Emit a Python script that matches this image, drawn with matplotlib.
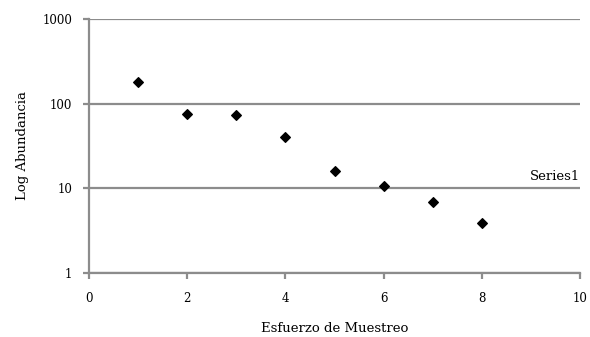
import matplotlib
matplotlib.use("Agg")
import matplotlib.pyplot as plt
from matplotlib.ticker import FixedLocator, FixedFormatter

esfuerzo = [1, 2, 3, 4, 5, 6, 7, 8]
abundancia = [178, 76, 74, 40, 15.8, 10.5, 6.8, 3.9]
x_ticks = [0, 2, 4, 6, 8, 10]
y_ticks = [1, 10, 100, 1000]
y_labels = ["1", "10", "100", "1000"]

plt.rcParams["font.family"] = ["DejaVu Serif"]
plt.rcParams["font.size"] = 9

GRIS = "#8c8c8c"

fig = plt.figure(figsize=(5.9, 3.37), dpi=100)
ax = fig.add_axes([0.151, 0.19, 0.832, 0.754])

ax.scatter(esfuerzo, abundancia, marker="D", s=24, color="black", zorder=3)

ax.set_yscale("log")
ax.set_xlim(0, 10)
ax.set_ylim(1, 1000)
ax.yaxis.set_major_locator(FixedLocator(y_ticks))
ax.yaxis.set_major_formatter(FixedFormatter(y_labels))
ax.yaxis.set_minor_locator(FixedLocator([]))
ax.set_xticks(x_ticks)

ax.grid(True, axis="y", color=GRIS, linewidth=1.6)
ax.set_axisbelow(True)

for lado in ["top", "right"]:
    ax.spines[lado].set_visible(False)
for lado in ["left", "bottom"]:
    ax.spines[lado].set_color(GRIS)
    ax.spines[lado].set_linewidth(1.6)

ax.tick_params(axis="both", colors=GRIS, length=4, width=1.6, labelcolor="black", labelsize=8.5)
ax.tick_params(axis="x", pad=10)
ax.tick_params(axis="y", pad=8)

ax.set_xlabel("Esfuerzo de Muestreo", labelpad=12, fontsize=9.5)
ax.set_ylabel("Log Abundancia", labelpad=10, fontsize=9.5)

ax.text(1.0, 0.355, "Series1", transform=ax.transAxes, ha="right", va="bottom", fontsize=9.5)

fig.savefig("out.png", dpi=100)
